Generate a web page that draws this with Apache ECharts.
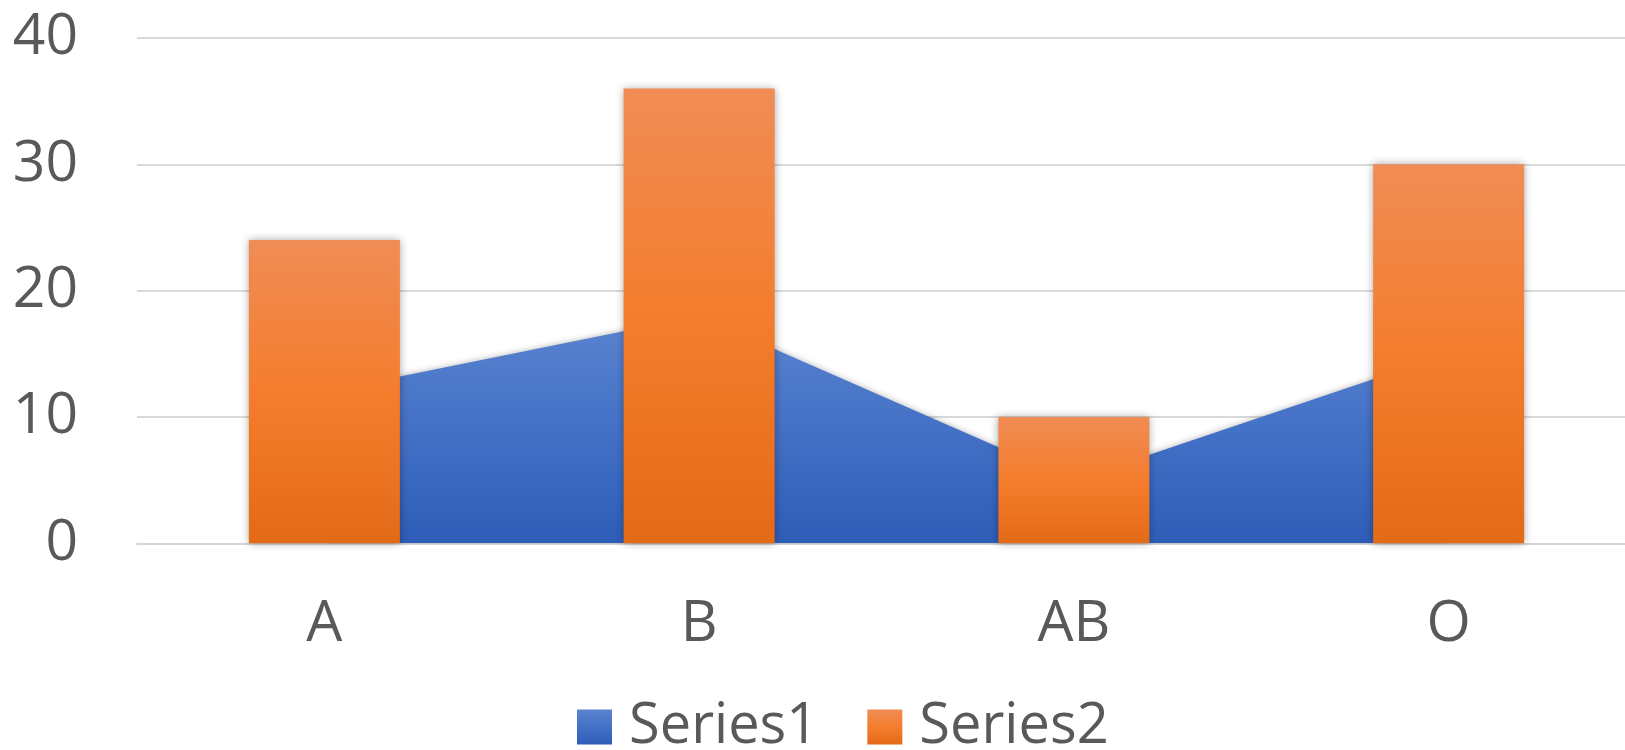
<!DOCTYPE html>
<html>
<head>
<meta charset="utf-8">
<script src="https://cdn.jsdelivr.net/npm/echarts@6/dist/echarts.min.js"></script>
<style>
  html, body { margin: 0; padding: 0; background: #fff; overflow: hidden; }
  #chart { width: 1660px; height: 750px; }
</style>
</head>
<body>
<div id="chart"></div>
<script>
// Blood type categories and the two series
var categories = ['A', 'B', 'AB', 'O'];
var series1 = [12, 18, 5, 15];
var series2 = [24, 36, 10, 30];
var yTicks = { min: 0, max: 40, interval: 10 };

var textColor = '#595959';
var fontFamily = '"Open Sans", "Noto Sans", sans-serif';

var blueFill = new echarts.graphic.LinearGradient(0, 0, 0, 1, [
  { offset: 0, color: '#5b84d0' },
  { offset: 0.5, color: '#4371c6' },
  { offset: 1, color: '#2e5db8' }
]);
var orangeFill = new echarts.graphic.LinearGradient(0, 0, 0, 1, [
  { offset: 0, color: '#f08c55' },
  { offset: 0.5, color: '#f47d2d' },
  { offset: 1, color: '#e36a17' }
]);

var chart = echarts.init(document.getElementById('chart'), null, { renderer: 'canvas' });
chart.setOption({
  animation: false,
  backgroundColor: '#ffffff',
  textStyle: { fontFamily: fontFamily },
  // plot area runs slightly past the right edge of the visible page
  grid: { left: 137, top: 38, width: 1499, height: 505.3, containLabel: false },
  legend: {
    left: 572,
    top: 694,
    itemWidth: 35,
    itemHeight: 35,
    itemGap: 49,
    icon: 'rect',
    textStyle: { color: textColor, fontSize: 56, fontFamily: fontFamily, padding: [0, 0, 0, 12] },
    data: ['Series1', 'Series2']
  },
  xAxis: {
    type: 'category',
    data: categories,
    boundaryGap: true,
    axisTick: { show: false },
    axisLine: { show: true, lineStyle: { color: '#d4d4d4', width: 2 } },
    axisLabel: { color: textColor, fontSize: 57, fontFamily: fontFamily, margin: 53 }
  },
  yAxis: {
    type: 'value',
    min: yTicks.min,
    max: yTicks.max,
    interval: yTicks.interval,
    axisLine: { show: false },
    axisTick: { show: false },
    axisLabel: { color: textColor, fontSize: 57, fontFamily: fontFamily, margin: 59 },
    splitLine: { lineStyle: { color: '#d9d9d9', width: 2 } }
  },
  series: [
    {
      name: 'Series1',
      type: 'line',
      data: series1,
      symbol: 'none',
      showSymbol: false,
      lineStyle: { width: 0, color: '#4472c4' },
      itemStyle: { color: blueFill },
      areaStyle: {
        color: blueFill,
        opacity: 1,
        shadowColor: 'rgba(0,0,0,0.3)',
        shadowBlur: 6
      },
      z: 1
    },
    {
      name: 'Series2',
      type: 'bar',
      data: series2,
      barWidth: '40.3%',
      itemStyle: {
        color: orangeFill,
        shadowColor: 'rgba(0,0,0,0.35)',
        shadowBlur: 8
      },
      z: 2
    }
  ]
});
</script>
</body>
</html>
